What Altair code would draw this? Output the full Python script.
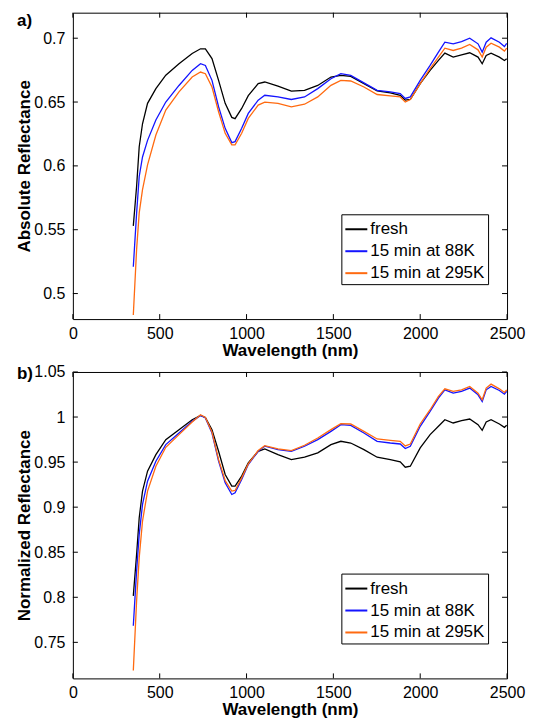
import altair as alt
import pandas as pd

# ---------------- data ----------------
series_names = ["fresh", "15 min at 88K", "15 min at 295K"]
series_colors = ["#000000", "#1414ff", "#ff6a10"]

wavelength = [348, 367, 382, 401, 430, 478, 535, 611, 687, 735, 763, 801, 839, 877,
              915, 934, 972, 1010, 1067, 1105, 1181, 1258, 1334, 1410, 1486, 1543,
              1600, 1676, 1752, 1828, 1885, 1914, 1943, 2000, 2057, 2105, 2142, 2190,
              2238, 2285, 2333, 2357, 2380, 2408, 2456, 2485, 2498]

abs_fresh = [0.553, 0.584, 0.615, 0.633, 0.649, 0.6605, 0.671, 0.680, 0.688, 0.6917,
             0.6917, 0.684, 0.667, 0.649, 0.638, 0.637, 0.645, 0.655, 0.6644, 0.6657,
             0.6625, 0.6585, 0.6592, 0.663, 0.6696, 0.6709, 0.6701, 0.6644, 0.6587,
             0.6572, 0.6553, 0.6515, 0.652, 0.6644, 0.6748, 0.6826, 0.6883, 0.6852,
             0.687, 0.6886, 0.6852, 0.680, 0.6865, 0.6883, 0.6852, 0.6826, 0.684]

abs_88k = [0.521, 0.563, 0.5917, 0.607, 0.620, 0.636, 0.650, 0.663, 0.6748, 0.680,
           0.6787, 0.667, 0.6463, 0.6294, 0.6182, 0.619, 0.6294, 0.6411, 0.6515, 0.6553,
           0.654, 0.652, 0.654, 0.6605, 0.6683, 0.6722, 0.6709, 0.665, 0.6592, 0.658,
           0.6567, 0.6528, 0.654, 0.667, 0.6787, 0.6891, 0.6969, 0.6956, 0.6974, 0.700,
           0.6956, 0.6891, 0.6969, 0.7003, 0.6969, 0.6935, 0.696]

abs_295k = [0.4832, 0.5346, 0.5632, 0.5814, 0.6008, 0.6242, 0.6437, 0.658, 0.6696, 0.6735,
            0.6722, 0.6618, 0.6424, 0.6255, 0.6164, 0.6164, 0.6255, 0.6372, 0.6476, 0.650,
            0.6489, 0.6463, 0.6483, 0.654, 0.6631, 0.667, 0.6665, 0.6618, 0.6559, 0.6548,
            0.654, 0.650, 0.652, 0.6644, 0.6761, 0.6852, 0.6922, 0.6904, 0.6922, 0.6951,
            0.6909, 0.6852, 0.693, 0.6961, 0.693, 0.6899, 0.6922]

norm_fresh = [0.8016, 0.8477, 0.8883, 0.9178, 0.9399, 0.9583, 0.9749, 0.986, 0.997, 1.0018,
              0.9996, 0.986, 0.962, 0.9362, 0.9233, 0.9233, 0.9344, 0.9491, 0.962, 0.9646,
              0.9583, 0.9528, 0.9554, 0.9602, 0.9694, 0.9731, 0.9712, 0.9639, 0.9554, 0.9528,
              0.9502, 0.9443, 0.9454, 0.9657, 0.9805, 0.9897, 0.997, 0.9934, 0.9959, 0.9978,
              0.9915, 0.9853, 0.9945, 0.997, 0.9923, 0.9886, 0.9908]

norm_88k = [0.7684, 0.8293, 0.8698, 0.903, 0.9288, 0.951, 0.9694, 0.9823, 0.9952, 1.0018,
            0.9989, 0.9823, 0.951, 0.927, 0.9141, 0.9159, 0.9307, 0.9473, 0.962, 0.9676,
            0.9639, 0.962, 0.9676, 0.9749, 0.9841, 0.9915, 0.9908, 0.9823, 0.9731, 0.9712,
            0.9701, 0.965, 0.9676, 0.9897, 1.0063, 1.021, 1.0302, 1.0265, 1.0284, 1.0321,
            1.0247, 1.0173, 1.0302, 1.0339, 1.0295, 1.0254, 1.0284]

norm_295k = [0.7187, 0.7961, 0.844, 0.8846, 0.9178, 0.9454, 0.9664, 0.9805, 0.9945, 1.0026,
             0.9996, 0.9834, 0.9528, 0.9296, 0.9178, 0.9185, 0.9325, 0.948, 0.9628, 0.9683,
             0.9646, 0.9628, 0.9687, 0.9768, 0.986, 0.9926, 0.9923, 0.9841, 0.9757, 0.9742,
             0.9731, 0.9679, 0.9701, 0.9923, 1.0081, 1.0229, 1.0313, 1.0284, 1.0302, 1.0339,
             1.0265, 1.0192, 1.0321, 1.0365, 1.0313, 1.0273, 1.0302]

x_ticks = [0, 500, 1000, 1500, 2000, 2500]
abs_ticks = [0.5, 0.55, 0.6, 0.65, 0.7]
norm_ticks = [0.75, 0.8, 0.85, 0.9, 0.95, 1.0, 1.05]

# ---------------- styling ----------------
FONT = "Liberation Sans"
W, H = 435, 307
TICK = 5


def long_df(cols):
    rows = []
    for name, vals in zip(series_names, cols):
        for w, v in zip(wavelength, vals):
            rows.append({"wl": w, "value": v, "series": name})
    return pd.DataFrame(rows)


def panel(df, yticks, ydomain, ytitle, tag, tag_y):
    xscale = alt.Scale(domain=[0, 2500], nice=False, zero=False)
    yscale = alt.Scale(domain=ydomain, nice=False, zero=False)

    lines = alt.Chart(df).mark_line(strokeWidth=1.3, clip=True).encode(
        x=alt.X("wl:Q", scale=xscale,
                axis=alt.Axis(title="Wavelength (nm)", values=x_ticks, format="d",
                              labelFlush=False)),
        y=alt.Y("value:Q", scale=yscale,
                axis=alt.Axis(title=ytitle, values=yticks, format="~g",
                              labelFlush=False)),
        color=alt.Color(
            "series:N",
            scale=alt.Scale(domain=series_names, range=series_colors),
            sort=series_names,
            legend=alt.Legend(
                title=None, orient="none", legendX=269, legendY=202,
                symbolType="stroke", symbolSize=484, symbolStrokeWidth=2,
                labelFont=FONT, labelFontSize=17, labelColor="black",
                labelOffset=2, rowPadding=2, padding=3,
                strokeColor="black", fillColor="white", cornerRadius=0,
            ),
        ),
        order=alt.Order("wl:Q"),
    )

    xt = pd.DataFrame({"wl": x_ticks})
    yt = pd.DataFrame({"value": yticks})
    tick_style = dict(color="black", strokeWidth=1)

    xb = alt.Chart(xt).mark_rule(**tick_style).encode(
        x=alt.X("wl:Q", scale=xscale), y=alt.value(H), y2=alt.value(H - TICK))
    xtp = alt.Chart(xt).mark_rule(**tick_style).encode(
        x=alt.X("wl:Q", scale=xscale), y=alt.value(0), y2=alt.value(TICK))
    yl = alt.Chart(yt).mark_rule(**tick_style).encode(
        y=alt.Y("value:Q", scale=yscale), x=alt.value(0), x2=alt.value(TICK))
    yr = alt.Chart(yt).mark_rule(**tick_style).encode(
        y=alt.Y("value:Q", scale=yscale), x=alt.value(W - TICK), x2=alt.value(W))

    label = alt.Chart(pd.DataFrame({"t": [tag]})).mark_text(
        font=FONT, fontSize=17, fontWeight="bold", align="left", baseline="top",
        color="black",
    ).encode(text="t:N", x=alt.value(-56), y=alt.value(tag_y))

    return alt.layer(lines, xb, xtp, yl, yr, label).properties(width=W, height=H)


top = panel(long_df([abs_fresh, abs_88k, abs_295k]), abs_ticks, [0.48, 0.72],
            "Absolute Reflectance", "a)", 0)
bottom = panel(long_df([norm_fresh, norm_88k, norm_295k]), norm_ticks, [0.71, 1.05],
               "Normalized Reflectance", "b)", -6)

chart = alt.vconcat(top, bottom, spacing=4).resolve_legend(
    color="independent"
).resolve_scale(y="independent").properties(
    padding={"left": 7, "top": 2, "right": 0, "bottom": 0},
    background="white",
).configure_view(
    stroke="black", strokeWidth=1,
).configure_axis(
    grid=False, domain=False, ticks=False, tickSize=0,
    labelFont=FONT, labelFontSize=16, labelColor="black", labelPadding=8,
    titleFont=FONT, titleFontSize=17, titleFontWeight="bold", titleColor="black",
).configure_axisX(
    labelPadding=6, titlePadding=1,
).configure_axisY(
    titlePadding=0,
)

chart.save("out.html", embed_options={"renderer": "svg", "actions": False})
